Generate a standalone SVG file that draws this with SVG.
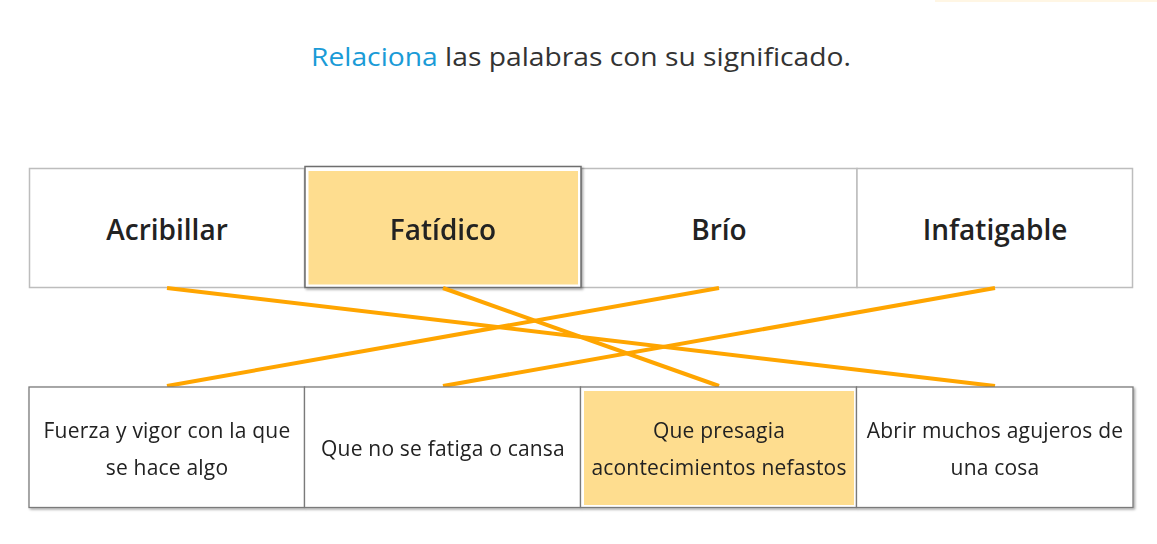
<svg xmlns="http://www.w3.org/2000/svg" width="1157" height="544" viewBox="0 0 1157 544">
<style>
.title{font-family:"Open Sans","Noto Sans","Liberation Sans",sans-serif;font-size:26px;fill:#333}
.blue{fill:#1a9bd7}
.word{font-family:"Open Sans","Noto Sans","Liberation Sans",sans-serif;font-size:28px;font-weight:600;fill:#222;text-anchor:middle}
.def{font-family:"Open Sans","Noto Sans","Liberation Sans",sans-serif;font-size:21px;letter-spacing:0.2px;fill:#222;text-anchor:middle}
.tbox{fill:#fff;stroke:#bdbdbd;stroke-width:1.5}
.bbox{fill:#fff;stroke:#7a7a7a;stroke-width:1.3}
.sel{fill:#fff;stroke:#6e6e6e;stroke-width:1.5}
.hl{fill:#fedd8f}
.conn{stroke:#ffa500;stroke-width:4;fill:none;stroke-linecap:butt}
</style>
<defs>
<filter id="sh" x="-5%" y="-5%" width="115%" height="120%">
<feDropShadow dx="1.5" dy="1.5" stdDeviation="1.2" flood-color="#000" flood-opacity="0.35"/>
</filter>
</defs>
<rect width="1157" height="544" fill="#fff"/>
<rect x="935" y="0" width="222" height="2" fill="#fff6e4"/>
<text class="title" x="581" y="66" text-anchor="middle" textLength="540" lengthAdjust="spacingAndGlyphs"><tspan class="blue">Relaciona</tspan> las palabras con su significado.</text>

<g id="top-acribillar">
<rect class="tbox" x="29.5" y="168.5" width="275" height="119"/>
<text class="word" x="167" y="240">Acribillar</text>
</g>
<g id="top-brio">
<rect class="tbox" x="581" y="168.5" width="276" height="119"/>
<text class="word" x="719" y="240">Brío</text>
</g>
<g id="top-infatigable">
<rect class="tbox" x="857" y="168.5" width="275.5" height="119"/>
<text class="word" x="995" y="240">Infatigable</text>
</g>
<g id="top-fatidico" filter="url(#sh)">
<rect class="sel" x="305" y="166.5" width="276" height="121"/>
<rect class="hl" x="308.5" y="171" width="269.5" height="113.5"/>
<text class="word" x="443" y="240">Fatídico</text>
</g>

<g id="connectors">
<line class="conn" x1="167" y1="288" x2="995" y2="386"/>
<line class="conn" x1="443" y1="288" x2="719" y2="386"/>
<line class="conn" x1="719" y1="288" x2="167" y2="386"/>
<line class="conn" x1="995" y1="288" x2="443" y2="386"/>
</g>

<g filter="url(#sh)">
<g id="def-fuerza">
<rect class="bbox" x="29" y="387" width="275.5" height="120.5"/>
<text class="def" x="167" y="438">Fuerza y vigor con la que</text>
<text class="def" x="167" y="475">se hace algo</text>
</g>
<g id="def-fatiga">
<rect class="bbox" x="304.5" y="387" width="276" height="120.5"/>
<text class="def" x="443" y="456">Que no se fatiga o cansa</text>
</g>
<g id="def-presagia">
<rect class="bbox" x="580.5" y="387" width="276" height="120.5"/>
<rect class="hl" x="584" y="391" width="270" height="114"/>
<text class="def" x="719" y="438">Que presagia</text>
<text class="def" x="719" y="475">acontecimientos nefastos</text>
</g>
<g id="def-abrir">
<rect class="bbox" x="856.5" y="387" width="276.5" height="120.5"/>
<text class="def" x="995" y="438">Abrir muchos agujeros de</text>
<text class="def" x="995" y="475">una cosa</text>
</g>
</g>
</svg>
